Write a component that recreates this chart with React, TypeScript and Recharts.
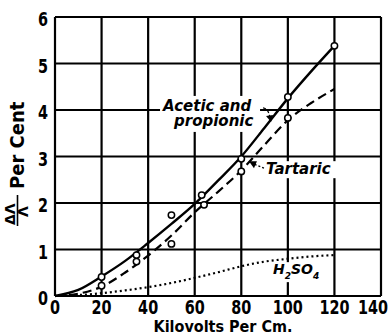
import React from 'react';
import {
  ComposedChart,
  Line,
  Scatter,
  XAxis,
  YAxis,
  CartesianGrid,
  ReferenceDot,
} from 'recharts';

const xTicks = [0, 20, 40, 60, 80, 100, 120, 140];
const yTicks = [0, 1, 2, 3, 4, 5, 6];

// smoothed curves, read every 10 kV/cm
const curveX = [0, 10, 20, 30, 40, 50, 60, 70, 80, 90, 100, 110, 120];
const aceticCurve = [0, 0.13, 0.42, 0.75, 1.14, 1.55, 1.98, 2.48, 3.0, 3.62, 4.25, 4.83, 5.38];
const tartaricCurve = [0, 0.05, 0.2, 0.5, 0.87, 1.3, 1.8, 2.24, 2.7, 3.25, 3.78, 4.15, 4.45];
const sulfuricCurve = [0, 0.02, 0.06, 0.12, 0.19, 0.28, 0.39, 0.51, 0.64, 0.74, 0.8, 0.85, 0.88];

// measured points (open circles)
const aceticPtX = [20, 35, 50, 63, 80, 100, 120];
const aceticPtY = [0.41, 0.88, 1.74, 2.17, 2.95, 4.28, 5.38];
const tartaricPtX = [20, 35, 50, 64, 80, 100];
const tartaricPtY = [0.22, 0.74, 1.12, 1.96, 2.68, 3.83];

const curveData = curveX.map((x, i) => ({
  x,
  acetic: aceticCurve[i],
  tartaric: tartaricCurve[i],
  sulfuric: sulfuricCurve[i],
}));
const aceticPts = aceticPtX.map((x, i) => ({ x, y: aceticPtY[i] }));
const tartaricPts = tartaricPtX.map((x, i) => ({ x, y: tartaricPtY[i] }));

const tickFont = "'DejaVu Sans Condensed', 'DejaVu Sans', sans-serif";
const labelFont = "'DejaVu Sans Condensed', 'DejaVu Sans', sans-serif";
const noteFont = "'DejaVu Sans', sans-serif";

// label viewBox of a ReferenceDot: take its centre
const centre = (vb: any) => ({
  cx: vb.cx ?? vb.x + (vb.width || 0) / 2,
  cy: vb.cy ?? vb.y + (vb.height || 0) / 2,
});

const OpenCircle = (props: any) => (
  <circle cx={props.cx} cy={props.cy} r={3.2} fill="#fff" stroke="#000" strokeWidth={1.5} />
);

// narrow bold digits like the old print; last one pulled in from the edge
const XTick = ({ x, y, payload }: any) => {
  const last = payload.value === 140;
  return (
    <text
      transform={`translate(${last ? x + 9 : x},${y + 10}) scale(0.8,1)`}
      textAnchor={last ? 'end' : 'middle'}
      fontFamily={tickFont}
      fontWeight="bold"
      fontSize={20}
      fill="#000"
    >
      {payload.value}
    </text>
  );
};

const YTick = ({ x, y, payload }: any) => (
  <text transform={`translate(${x + 1},${y + 9}) scale(0.8,1)`} textAnchor="end" fontFamily={tickFont} fontWeight="bold" fontSize={20} fill="#000">
    {payload.value}
  </text>
);

const YLabel = () => (
  <g transform="translate(0, 226) rotate(-90)" fill="#000">
    <text x={1} y={15} fontFamily={noteFont} fontWeight="bold" fontSize={14}>ΔΛ</text>
    <line x1={0} y1={17.5} x2={31} y2={17.5} stroke="#000" strokeWidth={1.6} />
    <text x={9} y={28} fontFamily={noteFont} fontWeight="bold" fontSize={14}>Λ</text>
    <text x={37} y={24} fontFamily={labelFont} fontWeight="bold" fontSize={20}>Per Cent</text>
  </g>
);

const XLabel = () => (
  <text x={223} y={332} textAnchor="middle" fontFamily={labelFont} fontWeight="bold" fontSize={16} fill="#000">
    Kilovolts Per Cm.
  </text>
);

const AceticNote = ({ viewBox }: any) => {
  const { cx, cy } = centre(viewBox);
  return (
    <g fill="#000">
      <rect x={cx - 3} y={cy - 15} width={100} height={36} fill="#fff" />
      <text x={cx} y={cy} fontFamily={noteFont} fontStyle="italic" fontWeight="bold" fontSize={15}>Acetic and</text>
      <text x={cx + 11} y={cy + 15} fontFamily={noteFont} fontStyle="italic" fontWeight="bold" fontSize={15}>propionic</text>
      <path d={`M${cx + 100},${cy - 3} Q${cx + 106},${cy - 2} ${cx + 107},${cy + 8}`} fill="none" stroke="#000" strokeWidth={1.3} strokeDasharray="3 2" />
      <path d={`M${cx + 103},${cy + 5} L${cx + 108},${cy + 11} L${cx + 110},${cy + 4} Z`} />
    </g>
  );
};

const TartaricNote = ({ viewBox }: any) => {
  const { cx, cy } = centre(viewBox);
  return (
    <g fill="#000">
      <rect x={cx - 4} y={cy - 13} width={76} height={17} fill="#fff" />
      <text x={cx} y={cy} fontFamily={noteFont} fontStyle="italic" fontWeight="bold" fontSize={15}>Tartaric</text>
      <line x1={cx - 2} y1={cy - 6} x2={cx - 12} y2={cy - 10} stroke="#000" strokeWidth={1.3} strokeDasharray="2 2" />
      <path d={`M${cx - 17},${cy - 13} L${cx - 9},${cy - 13} L${cx - 12},${cy - 6} Z`} />
    </g>
  );
};

const SulfuricNote = ({ viewBox }: any) => {
  const { cx, cy } = centre(viewBox);
  return (
    <g>
      <rect x={cx - 2} y={cy - 12} width={46} height={20} fill="#fff" />
      <text x={cx} y={cy} fontFamily={noteFont} fontStyle="italic" fontWeight="bold" fontSize={14} fill="#000">
        H<tspan fontSize={9} dy={5}>2</tspan>
        <tspan dy={-5}>SO</tspan>
        <tspan fontSize={9} dy={5}>4</tspan>
      </text>
    </g>
  );
};

export default function App() {
  return (
    <div style={{ position: 'absolute', left: 0, top: 0, background: '#fff' }}>
      <ComposedChart width={391} height={334} data={curveData} margin={{ top: 17, right: 10, bottom: 0, left: 0 }}>
        <CartesianGrid stroke="#000" strokeWidth={2.2} horizontalValues={yTicks} verticalValues={xTicks} />
        <XAxis
          dataKey="x"
          type="number"
          domain={[0, 140]}
          ticks={xTicks}
          height={38}
          axisLine={false}
          tickLine={false}
          tick={<XTick />}
          label={<XLabel />}
        />
        <YAxis
          type="number"
          domain={[0, 6]}
          ticks={yTicks}
          width={55}
          axisLine={false}
          tickLine={false}
          tick={<YTick />}
          label={<YLabel />}
        />
        <ReferenceDot x={46.4} y={3.98} r={0} label={<AceticNote />} />
        <ReferenceDot x={90.6} y={2.62} r={0} label={<TartaricNote />} />
        <ReferenceDot x={93.6} y={0.47} r={0} label={<SulfuricNote />} />
        <Line dataKey="acetic" type="monotone" stroke="#000" strokeWidth={2.4} dot={false} isAnimationActive={false} />
        <Line dataKey="tartaric" type="monotone" stroke="#000" strokeWidth={2.2} strokeDasharray="9 5" dot={false} isAnimationActive={false} />
        <Line dataKey="sulfuric" type="monotone" stroke="#000" strokeWidth={2.2} strokeDasharray="2 3" dot={false} isAnimationActive={false} />
        <Scatter data={aceticPts} dataKey="y" shape={OpenCircle} isAnimationActive={false} />
        <Scatter data={tartaricPts} dataKey="y" shape={OpenCircle} isAnimationActive={false} />
      </ComposedChart>
    </div>
  );
}
